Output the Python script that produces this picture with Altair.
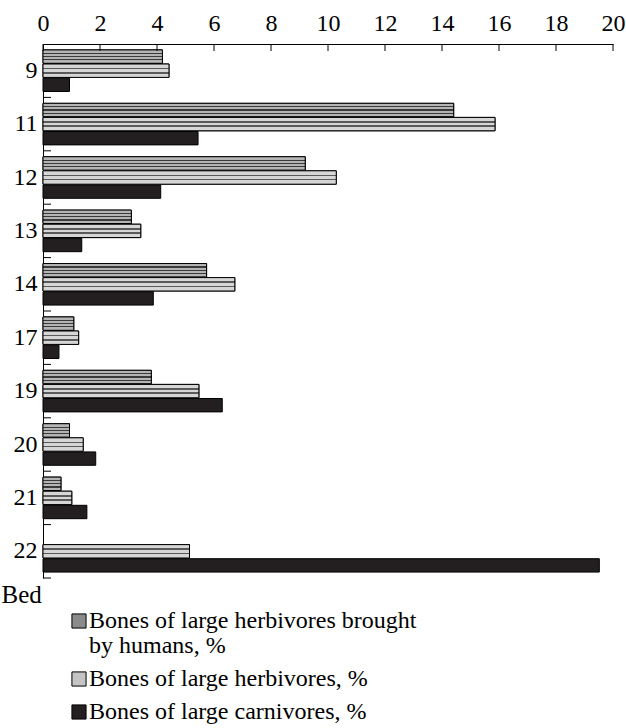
import altair as alt
import pandas as pd

# ---- data ----
beds = ["9", "11", "12", "13", "14", "17", "19", "20", "21", "22"]
series = [
    "Bones of large herbivores brought by humans, %",
    "Bones of large herbivores, %",
    "Bones of large carnivores, %",
]
humans = [4.19, 14.41, 9.20, 3.10, 5.74, 1.08, 3.80, 0.93, 0.63, None]
herbivores = [4.42, 15.86, 10.29, 3.43, 6.73, 1.25, 5.47, 1.41, 1.01, 5.14]
carnivores = [0.93, 5.44, 4.13, 1.36, 3.87, 0.56, 6.29, 1.85, 1.54, 19.52]
x_ticks = [0, 2, 4, 6, 8, 10, 12, 14, 16, 18, 20]

rows = []
for i, b in enumerate(beds):
    for s, vals in zip(series, [humans, herbivores, carnivores]):
        if vals[i] is not None:
            rows.append({"bed": b, "series": s, "value": vals[i]})
df = pd.DataFrame(rows)
ticks_df = pd.DataFrame({"t": x_ticks})
beds_df = pd.DataFrame({"bed": beds})

FONT = "Liberation Serif"
W, H = 570, 534


def stripes(bg, fg, bands):
    """vertical linear gradient giving horizontal texture lines"""
    stops = [{"offset": 0, "color": bg}]
    for a, b in bands:
        stops += [{"offset": a, "color": bg}, {"offset": a, "color": fg},
                  {"offset": b, "color": fg}, {"offset": b, "color": bg}]
    stops.append({"offset": 1, "color": bg})
    return {"gradient": "linear", "x1": 0, "y1": 0, "x2": 0, "y2": 1, "stops": stops}


grid_fill = stripes("#b4b4b4", "#3a3a3a", [(0.22, 0.30), (0.46, 0.54), (0.70, 0.78)])
dot_fill = stripes("#d6d6d6", "#5a5a5a", [(0.28, 0.40), (0.60, 0.72)])

xscale = alt.Scale(domain=[0, 20], nice=False, zero=True)
yscale = alt.Scale(domain=beds, paddingInner=0, paddingOuter=0)
oscale = alt.Scale(domain=series, paddingInner=0.05, paddingOuter=0.42)

label_expr = ("datum.label == 'Bones of large herbivores brought by humans, %' ? "
              "['Bones of large herbivores brought', 'by humans, %'] : datum.label")

x_enc = alt.X("value:Q", scale=xscale,
              axis=alt.Axis(orient="top", values=x_ticks, ticks=False, tickSize=0,
                            labelPadding=9, labelFontSize=24, labelFont=FONT,
                            labelColor="black", domainColor="black", domainWidth=1,
                            grid=False, title=None, labelFlush=False))
y_enc = alt.Y("bed:N", scale=yscale, sort=beds,
              axis=alt.Axis(ticks=False, tickSize=0, labelPadding=6,
                            labelFontSize=24, labelFont=FONT, labelColor="black",
                            domainColor="black", domainWidth=1, grid=False,
                            title="Bed", titleAngle=0, titleX=-42, titleY=H + 24,
                            titleAlign="left", titleBaseline="alphabetic",
                            titleFontSize=25, titleFont=FONT, titleFontWeight="normal",
                            titleColor="black"))
o_enc = alt.YOffset("series:N", sort=series, scale=oscale)

bars = alt.Chart(df).mark_bar(stroke="black", strokeWidth=1).encode(
    x=x_enc, y=y_enc, yOffset=o_enc,
    fill=alt.Fill("series:N", sort=series,
                  scale=alt.Scale(domain=series, range=["#8a8a8a", "#c4c4c4", "#231f20"]),
                  legend=alt.Legend(orient="none", legendX=24, legendY=565, title=None,
                                    symbolType="square", symbolSize=200,
                                    symbolStrokeColor="black", symbolStrokeWidth=1,
                                    symbolOpacity=1, labelFontSize=24, labelFont=FONT,
                                    labelColor="black", labelLimit=0,
                                    labelOffset={"expr": "-2"},
                                    labelExpr=label_expr, rowPadding=9, padding=0)),
)

over1 = alt.Chart(df).transform_filter(alt.datum.series == series[0]).mark_bar(
    stroke="black", strokeWidth=1, fill=grid_fill).encode(
    x=alt.X("value:Q", scale=xscale), y=alt.Y("bed:N", scale=yscale, sort=beds), yOffset=o_enc)

over2 = alt.Chart(df).transform_filter(alt.datum.series == series[1]).mark_bar(
    stroke="black", strokeWidth=1, fill=dot_fill).encode(
    x=alt.X("value:Q", scale=xscale), y=alt.Y("bed:N", scale=yscale, sort=beds), yOffset=o_enc)

xticks = alt.Chart(ticks_df).mark_rule(color="black", strokeWidth=1).encode(
    x=alt.X("t:Q", scale=xscale),
    y=alt.value(0),
    y2=alt.value(7),
)

yticks = alt.Chart(beds_df).mark_rule(color="black", strokeWidth=1).encode(
    y=alt.Y("bed:N", scale=yscale, sort=beds, bandPosition=1),
    x=alt.value(0),
    x2=alt.value(8),
)

chart = alt.layer(bars, over1, over2, xticks, yticks).properties(
    width=W, height=H,
    autosize=alt.AutoSizeParams(type="none"),
    padding={"left": 43, "top": 44, "right": 13, "bottom": 150},
    background="white",
).configure(
    style={"guide-label": {"lineHeight": 25}}
).configure_view(strokeOpacity=0)

chart.save("out.html", embed_options={"renderer": "svg", "actions": False})
